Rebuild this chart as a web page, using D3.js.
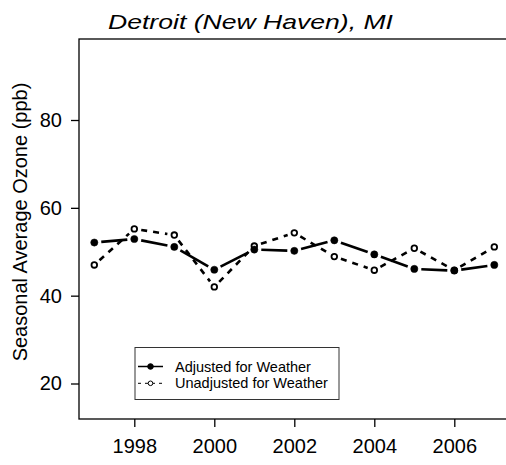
<!DOCTYPE html>
<meta charset="utf-8">
<style>
body { margin: 0; background: #fff; }
text { font-family: "Liberation Sans", Arial, sans-serif; fill: #000; }
</style>
<div id="chart"></div>
<script src="https://cdn.jsdelivr.net/npm/d3@7"></script>
<script>

// values
var years = [1997, 1998, 1999, 2000, 2001, 2002, 2003, 2004, 2005, 2006, 2007];
var adjusted = [52.1, 52.9, 51.1, 45.9, 50.5, 50.2, 52.6, 49.4, 46.1, 45.7, 47.0];
var unadjusted = [47.0, 55.2, 53.8, 42.0, 51.3, 54.3, 48.9, 45.8, 50.8, 45.8, 51.1];
var xTicks = [1998, 2000, 2002, 2004, 2006];
var yTicks = [20, 40, 60, 80];
var legendLabels = ["Adjusted for Weather", "Unadjusted for Weather"];
var title = "Detroit (New Haven), MI";
var yLabel = "Seasonal Average Ozone (ppb)";

var width = 506, height = 465;
var box = {left: 79, top: 39, right: 510, bottom: 419};

var svg = d3.select("#chart")
  .append("svg")
    .attr("width", width)
    .attr("height", height);

var x = d3.scaleLinear()
  .domain([1997, 2007])
  .range([94.3, 494.3]);

var y = d3.scaleLinear()
  .domain([20, 80])
  .range([383.5, 120]);

// plot frame
svg.append("rect")
  .attr("x", box.left)
  .attr("y", box.top)
  .attr("width", box.right - box.left)
  .attr("height", box.bottom - box.top)
  .attr("fill", "none")
  .attr("stroke", "#000")
  .attr("stroke-width", 1.3);

// axes
var xAxis = svg.append("g")
  .attr("transform", "translate(0," + box.bottom + ")")
  .call(d3.axisBottom(x).tickValues(xTicks).tickFormat(d3.format("d")).tickSize(8).tickPadding(12));
xAxis.select(".domain").remove();
xAxis.selectAll("text").style("font-size", "20px").attr("font-family", null);
xAxis.selectAll("line").attr("stroke-width", 1.3);

var yAxis = svg.append("g")
  .attr("transform", "translate(" + box.left + ",0)")
  .call(d3.axisLeft(y).tickValues(yTicks).tickSize(8).tickPadding(9));
yAxis.select(".domain").remove();
yAxis.selectAll("text").style("font-size", "20px").attr("font-family", null);
yAxis.selectAll("line").attr("stroke-width", 1.3);

// title and y label
svg.append("text")
  .attr("x", 250.5)
  .attr("y", 29)
  .attr("text-anchor", "middle")
  .attr("textLength", 285)
  .attr("lengthAdjust", "spacingAndGlyphs")
  .style("font-size", "21px")
  .style("font-style", "italic")
  .text(title);

svg.append("text")
  .attr("transform", "translate(27,222) rotate(-90)")
  .attr("text-anchor", "middle")
  .style("font-size", "20px")
  .text(yLabel);

// R style type="b": segments stop short of the points
function gapSegments(vals, gap) {
  var segs = [];
  for (var i = 0; i < vals.length - 1; i++) {
    var x1 = x(years[i]), y1 = y(vals[i]), x2 = x(years[i + 1]), y2 = y(vals[i + 1]);
    var dx = x2 - x1, dy = y2 - y1, len = Math.sqrt(dx * dx + dy * dy);
    if (len <= 2 * gap) continue;
    var ux = dx / len, uy = dy / len;
    segs.push([x1 + ux * gap, y1 + uy * gap, x2 - ux * gap, y2 - uy * gap]);
  }
  return segs;
}

function drawSeries(vals, dash, filled) {
  var g = svg.append("g");
  g.selectAll("line")
    .data(gapSegments(vals, 7))
    .enter()
    .append("line")
      .attr("x1", function(d) { return d[0]; })
      .attr("y1", function(d) { return d[1]; })
      .attr("x2", function(d) { return d[2]; })
      .attr("y2", function(d) { return d[3]; })
      .attr("stroke", "#000")
      .attr("stroke-width", 2.6)
      .attr("stroke-dasharray", dash);
  g.selectAll("circle")
    .data(vals)
    .enter()
    .append("circle")
      .attr("cx", function(d, i) { return x(years[i]); })
      .attr("cy", function(d) { return y(d); })
      .attr("r", filled ? 3.6 : 2.8)
      .attr("fill", filled ? "#000" : "#fff")
      .attr("stroke", "#000")
      .attr("stroke-width", filled ? 0.5 : 1.8);
}

drawSeries(unadjusted, "6,6", false);
drawSeries(adjusted, null, true);

// legend
var legend = svg.append("g");
legend.append("rect")
  .attr("x", 135)
  .attr("y", 347.5)
  .attr("width", 204)
  .attr("height", 52)
  .attr("fill", "#fff")
  .attr("stroke", "#333")
  .attr("stroke-width", 1);

legendLabels.forEach(function(lab, i) {
  var ly = 366.5 + i * 16.8;
  legend.append("line")
    .attr("x1", 138).attr("x2", 163)
    .attr("y1", ly).attr("y2", ly)
    .attr("stroke", "#000")
    .attr("stroke-width", i == 0 ? 1.5 : 1)
    .attr("stroke-dasharray", i == 0 ? null : "3,4");
  legend.append("circle")
    .attr("cx", 150.5).attr("cy", ly)
    .attr("r", i == 0 ? 2.8 : 2.3)
    .attr("fill", i == 0 ? "#000" : "#fff")
    .attr("stroke", "#000")
    .attr("stroke-width", 1);
  legend.append("text")
    .attr("x", 175)
    .attr("y", ly + 5)
    .style("font-size", "14.5px")
    .text(lab);
});

</script>
